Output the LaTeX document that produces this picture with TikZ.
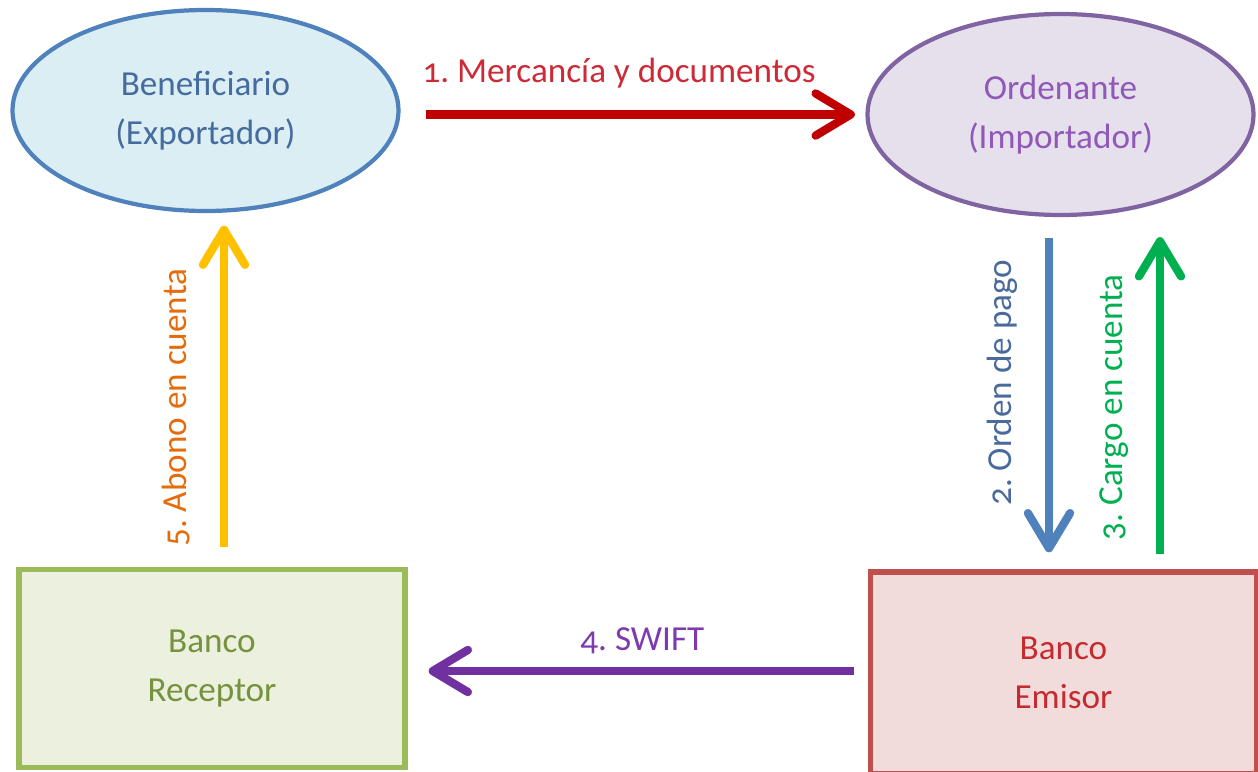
\documentclass[tikz,border=0pt]{standalone}
\usepackage{fontspec}
\setmainfont{Carlito}[Numbers=OldStyle]
\frenchspacing
\usetikzlibrary{shapes.geometric,arrows.meta}
\definecolor{benFill}{HTML}{DAEEF3}
\definecolor{benDraw}{HTML}{4F81BD}
\definecolor{benText}{HTML}{466C9F}
\definecolor{ordFill}{HTML}{E5E0EC}
\definecolor{ordDraw}{HTML}{8064A2}
\definecolor{ordText}{HTML}{9058B8}
\definecolor{recFill}{HTML}{EBF1DE}
\definecolor{recDraw}{HTML}{9BBB59}
\definecolor{recText}{HTML}{76923C}
\definecolor{emiFill}{HTML}{F2DCDB}
\definecolor{emiDraw}{HTML}{C0504D}
\definecolor{emiText}{HTML}{C42A30}
\definecolor{fRed}{HTML}{C00000}
\definecolor{lRed}{HTML}{CC2A36}
\definecolor{fBlue}{HTML}{4F81BD}
\definecolor{lBlue}{HTML}{4A6A9C}
\definecolor{fGreen}{HTML}{00B050}
\definecolor{fPurple}{HTML}{7030A0}
\definecolor{lPurple}{HTML}{7E3BAE}
\definecolor{fYellow}{HTML}{FFC000}
\definecolor{lOrange}{HTML}{E46C0A}
\begin{document}
\begin{tikzpicture}[font=\fontsize{20}{28}\selectfont,
    elip/.style={ellipse,draw,line width=2.4pt,minimum width=7.72cm,minimum height=4.02cm,align=center,inner sep=0pt},
    caja/.style={rectangle,draw,line width=3pt,minimum width=7.72cm,minimum height=3.96cm,align=center},
    flecha/.style={line width=4.7pt,-{Straight Barb[round,length=20pt,width=24pt]}},
    hlab/.style={anchor=base,inner sep=0pt},
    vlab/.style={rotate=90,anchor=base,inner sep=0pt,yshift=0.76cm}]
  \useasboundingbox (0,0) rectangle (25.16,-15.44);
  \node[elip,draw=benDraw,fill=benFill,text=benText] (benef) at (4.11,-2.21) {Beneficiario\\(Exportador)};
  \node[elip,draw=ordDraw,fill=ordFill,text=ordText] (ord) at (21.21,-2.29) {Ordenante\\(Importador)};
  \node[caja,draw=recDraw,fill=recFill,text=recText] (recep) at (4.24,-13.37) {Banco\\Receptor};
  \node[caja,draw=emiDraw,fill=emiFill,text=emiText,minimum height=4.04cm] (emi) at (21.27,-13.46) {Banco\\Emisor};
  \draw[flecha,fRed,shorten <=0.5cm,shorten >=0.21cm] (benef.east |- ord.west) -- node[hlab,pos=0.47,yshift=0.64cm,text=lRed]{1. Mercancía y documentos} (ord.west);
  \coordinate (b2) at ([xshift=-0.23cm]ord.south);
  \draw[flecha,fBlue,shorten <=0.42cm,shorten >=0.34cm] (b2) -- node[vlab,pos=0.47,text=lBlue]{2. Orden de pago} (b2 |- emi.north);
  \coordinate (g3) at ([xshift=1.93cm]emi.north);
  \draw[flecha,fGreen,shorten <=0.30cm,shorten >=0.40cm] (g3) -- node[vlab,pos=0.46,text=fGreen]{3. Cargo en cuenta} (g3 |- ord.south);
  \draw[flecha,fPurple,shorten <=0.27cm,shorten >=0.42cm] ([yshift=0.04cm]emi.west) -- node[hlab,pos=0.49,yshift=0.42cm,text=lPurple]{4. SWIFT} ([yshift=0.04cm]emi.west -| recep.east);
  \coordinate (y5) at ([xshift=0.24cm]recep.north);
  \draw[flecha,fYellow,shorten <=0.40cm,shorten >=0.25cm] (y5) -- node[vlab,pos=0.45,text=lOrange]{5. Abono en cuenta} (y5 |- benef.south);
\end{tikzpicture}
\end{document}
